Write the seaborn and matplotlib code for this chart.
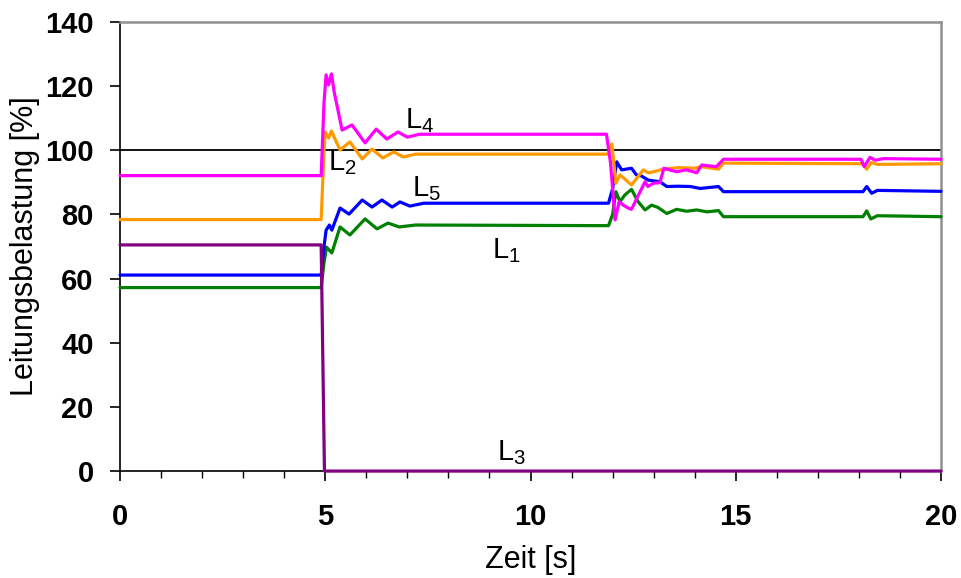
import numpy as np
import pandas as pd
import matplotlib
matplotlib.use("Agg")
import matplotlib.pyplot as plt
from matplotlib.ticker import MultipleLocator
import seaborn as sns

# ---- data ----
t_L4 = [0, 4.9, 4.97, 5.02, 5.08, 5.15, 5.22, 5.41, 5.65, 5.97, 6.24, 6.5, 6.77, 7.0, 7.3,
        11.85, 11.95, 12.06, 12.16, 12.26, 12.38, 12.46, 12.67, 12.79, 12.86, 12.99, 13.15,
        13.25, 13.56, 13.8, 14.05, 14.17, 14.53, 14.7, 18.05, 18.13, 18.27, 18.4, 18.6, 20]
v_L4 = [92.1, 92.1, 115, 123.5, 120.4, 123.8, 118, 106.3, 107.9, 102.3, 106.6, 103.5, 105.7, 104.1, 105,
        105, 96, 78.3, 84.0, 82.9, 82.0, 81.6, 87.1, 90.2, 88.7, 89.7, 89.9,
        94.4, 93.3, 93.9, 93.0, 95.4, 94.9, 97.2, 97.2, 94.9, 97.8, 96.9, 97.4, 97.2]

t_L2 = [0, 4.9, 4.97, 5.0, 5.08, 5.15, 5.36, 5.6, 5.9, 6.14, 6.4, 6.67, 6.9, 7.2,
        11.9, 11.98, 12.08, 12.18, 12.3, 12.46, 12.75, 12.86, 13.0, 13.23, 13.6, 14.0, 14.17,
        14.58, 14.7, 18.1, 18.19, 18.3, 18.45, 20]
v_L2 = [78.4, 78.4, 100, 105.7, 103.8, 106.0, 100.1, 102.6, 97.3, 100.4, 97.6, 99.5, 97.9, 98.8,
        98.8, 102.0, 89.7, 92.3, 91.0, 89.2, 93.9, 93.0, 93.3, 94.1, 94.6, 94.4, 94.9,
        94.1, 96.0, 95.8, 94.1, 96.2, 95.6, 95.8]

t_L5 = [0, 4.9, 4.97, 5.02, 5.1, 5.16, 5.36, 5.58, 5.9, 6.14, 6.38, 6.63, 6.82, 7.06, 7.4,
        11.9, 12.0, 12.1, 12.22, 12.46, 12.58, 12.7, 12.87, 13.15, 13.32, 13.6, 13.9, 14.13,
        14.58, 14.7, 18.1, 18.19, 18.31, 18.45, 20]
v_L5 = [61.1, 61.1, 70, 75.1, 76.7, 75.1, 82.0, 80.1, 84.5, 82.3, 84.5, 82.3, 83.9, 82.6, 83.5,
        83.5, 88, 96.4, 93.9, 94.4, 92.3, 92.0, 90.7, 90.2, 88.7, 88.8, 88.7, 88.1,
        88.7, 87.1, 87.1, 88.7, 86.6, 87.5, 87.2]

t_L1 = [0, 4.9, 4.97, 5.03, 5.16, 5.36, 5.6, 5.97, 6.26, 6.53, 6.8, 7.2,
        11.9, 12.0, 12.08, 12.18, 12.3, 12.46, 12.62, 12.79, 12.95, 13.1, 13.32, 13.56, 13.8,
        14.05, 14.3, 14.58, 14.7, 18.1, 18.19, 18.29, 18.45, 20]
v_L1 = [57.2, 57.2, 65, 69.8, 68.0, 76.1, 73.6, 78.6, 75.5, 77.3, 76.1, 76.7,
        76.5, 80, 87.1, 84.0, 86.1, 87.8, 84.0, 81.4, 82.9, 82.2, 80.3, 81.6, 81.0,
        81.4, 80.8, 81.2, 79.3, 79.3, 81.1, 78.6, 79.6, 79.3]

t_L3 = [0, 4.9, 4.98, 20]
v_L3 = [70.5, 70.5, 0, 0]

series = ["L1", "L5", "L2", "L4", "L3"]
colors = {"L1": "#008000", "L5": "#0000FF", "L2": "#FF9900", "L4": "#FF00FF", "L3": "#800080"}
labels = {"L4": (6.94, 107.0), "L2": (5.07, 93.9), "L5": (7.11, 85.7), "L1": (9.06, 66.4), "L3": (9.18, 3.4)}

x_ticks = [0, 5, 10, 15, 20]
y_ticks = [0, 20, 40, 60, 80, 100, 120, 140]

data = {"L1": (t_L1, v_L1), "L5": (t_L5, v_L5), "L2": (t_L2, v_L2), "L4": (t_L4, v_L4), "L3": (t_L3, v_L3)}
frames = [pd.DataFrame({"t": data[s][0], "v": data[s][1], "Leitung": s}) for s in series]
df = pd.concat(frames, ignore_index=True)

# ---- plot ----
sns.set_theme(style="white")
plt.rcParams["font.family"] = ["Liberation Sans", "DejaVu Sans"]
plt.rcParams["mathtext.default"] = "regular"
plt.rcParams["text.color"] = "black"
plt.rcParams["axes.labelcolor"] = "black"
plt.rcParams["xtick.color"] = "black"
plt.rcParams["ytick.color"] = "black"

fig = plt.figure(figsize=(9.61, 5.78), dpi=100)
ax = fig.add_axes([0.1249, 0.185, 0.9792 - 0.1249, 0.962 - 0.185])

ax.axhline(100, color="black", lw=1.3, zorder=1)
sns.lineplot(data=df, x="t", y="v", hue="Leitung", hue_order=series, palette=colors,
             estimator=None, sort=False, lw=2.3, legend=False, ax=ax, zorder=3)
for ln in ax.lines[1:]:
    ln.set_clip_on(False)

for s, (x, y) in labels.items():
    ax.text(x, y, r"$L_{%s}$" % s[1], fontsize=21, color="black", ha="left", va="baseline")

ax.set_xlim(0, 20)
ax.set_ylim(0, 140)
ax.set_xticks(x_ticks)
ax.set_yticks(y_ticks)
ax.xaxis.set_minor_locator(MultipleLocator(1))
ax.set_xticklabels([str(v) for v in x_ticks], fontsize=21, fontweight="bold", color="black")
ax.set_yticklabels([str(v) for v in y_ticks], fontsize=21, fontweight="bold", color="black")
ax.tick_params(axis="both", which="major", direction="out", length=7, width=1.2, color="black",
               bottom=True, left=True)
ax.tick_params(axis="x", which="major", pad=16)
ax.tick_params(axis="y", which="major", pad=12)
ax.tick_params(axis="x", which="minor", direction="out", length=5, width=1.0, color="black", bottom=True)
ax.set_xlabel("Zeit [s]", fontsize=22, color="black")
ax.set_ylabel("Leitungsbelastung [%]", fontsize=22, color="black")
ax.xaxis.set_label_coords(0.5, -0.165)
ax.yaxis.set_label_coords(-0.097, 0.5)

for side in ["left", "bottom"]:
    ax.spines[side].set_color("black")
    ax.spines[side].set_linewidth(1.2)
for side in ["top", "right"]:
    ax.spines[side].set_color("#909090")
    ax.spines[side].set_linewidth(1.8)
ax.grid(False)

fig.savefig("out.png", dpi=100)
